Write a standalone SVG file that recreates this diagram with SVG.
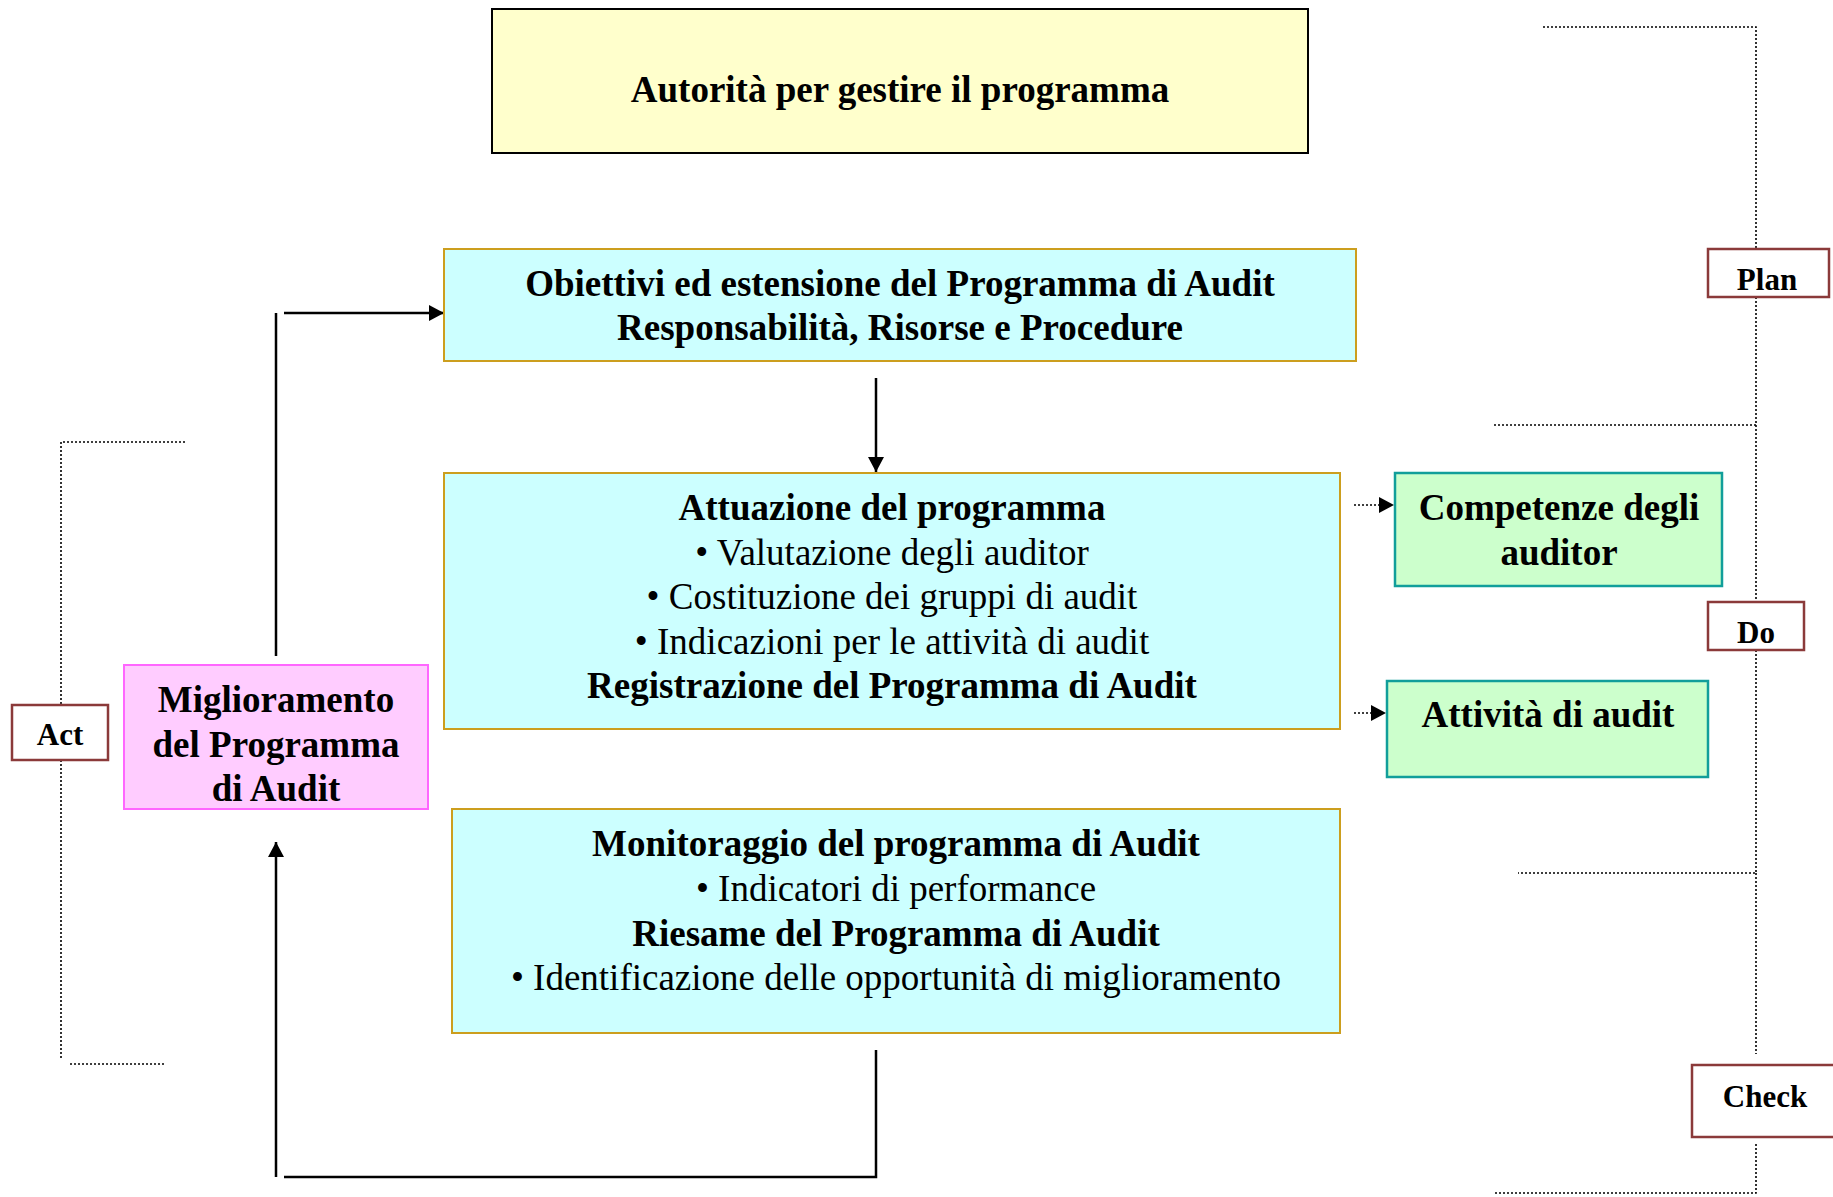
<svg xmlns="http://www.w3.org/2000/svg" width="1833" height="1197" viewBox="0 0 1833 1197">
<style>
.t{font-family:"Liberation Serif","Times New Roman",serif;font-size:37px;fill:#000;text-anchor:middle}
.b{font-weight:bold}
.p{font-family:"Liberation Serif","Times New Roman",serif;font-size:31px;font-weight:bold;fill:#000;text-anchor:middle}
.cyan{fill:#CCFFFF;stroke:#CC9E1E;stroke-width:2}
.green{fill:#CCFFCC;stroke:#119E9A;stroke-width:2.5}
.pdca{fill:#FFFFFF;stroke:#8B3A3A;stroke-width:2.5}
.dot{fill:none;stroke:#000;stroke-width:1.6;stroke-dasharray:2 2}
.line{fill:none;stroke:#000;stroke-width:2.5}
</style>
<defs>
<marker id="ah" markerUnits="userSpaceOnUse" markerWidth="16" markerHeight="16" refX="15" refY="8" orient="auto">
<path d="M0,0 L15,8 L0,16 Z" fill="#000" stroke="none"/>
</marker>
</defs>
<rect width="1833" height="1197" fill="#FFFFFF"/>

<g id="pdca-brackets">
<polyline class="dot" points="1543,27 1756,27 1756,249"/>
<polyline class="dot" points="1756,297 1756,425 1494,425"/>
<polyline class="dot" points="1756,425 1756,602"/>
<polyline class="dot" points="1756,650 1756,873 1518,873"/>
<polyline class="dot" points="1756,873 1756,1054"/>
<polyline class="dot" points="1756,1144 1756,1193 1495,1193"/>
<polyline class="dot" points="185,442 61,442 61,705"/>
<polyline class="dot" points="61,760 61,1058"/>
<line class="dot" x1="70" y1="1064" x2="165" y2="1064"/>
</g>

<g id="connectors">
<line class="line" x1="876" y1="378" x2="876" y2="472" marker-end="url(#ah)"/>
<line class="line" x1="276" y1="313" x2="276" y2="656"/>
<line class="line" x1="284" y1="313" x2="444" y2="313" marker-end="url(#ah)"/>
<polyline class="line" points="876,1050 876,1177 284,1177"/>
<line class="line" x1="276" y1="1177" x2="276" y2="842" marker-end="url(#ah)"/>
<line class="dot" x1="1354" y1="505" x2="1394" y2="505" marker-end="url(#ah)"/>
<line class="dot" x1="1354" y1="713" x2="1386" y2="713" marker-end="url(#ah)"/>
</g>

<g id="autorita">
<rect x="492" y="9" width="816" height="144" fill="#FFFFCC" stroke="#000" stroke-width="2"/>
<text class="t b" x="900" y="102">Autorità per gestire il programma</text>
</g>

<g id="obiettivi">
<rect class="cyan" x="444" y="249" width="912" height="112"/>
<text class="t b" x="900" y="296">Obiettivi ed estensione del Programma di Audit</text>
<text class="t b" x="900" y="340">Responsabilità, Risorse e Procedure</text>
</g>

<g id="attuazione">
<rect class="cyan" x="444" y="473" width="896" height="256"/>
<text class="t b" x="892" y="520">Attuazione del programma</text>
<text class="t" x="892" y="565">• Valutazione degli auditor</text>
<text class="t" x="892" y="609">• Costituzione dei gruppi di audit</text>
<text class="t" x="892" y="654">• Indicazioni per le attività di audit</text>
<text class="t b" x="892" y="698">Registrazione del Programma di Audit</text>
</g>

<g id="monitoraggio">
<rect class="cyan" x="452" y="809" width="888" height="224"/>
<text class="t b" x="896" y="856">Monitoraggio del programma di Audit</text>
<text class="t" x="896" y="901">• Indicatori di performance</text>
<text class="t b" x="896" y="946">Riesame del Programma di Audit</text>
<text class="t" x="896" y="990">• Identificazione delle opportunità di miglioramento</text>
</g>

<g id="miglioramento">
<rect x="124" y="665" width="304" height="144" fill="#FFCCFF" stroke="#FF66FF" stroke-width="2"/>
<text class="t b" x="276" y="712">Miglioramento</text>
<text class="t b" x="276" y="757">del Programma</text>
<text class="t b" x="276" y="801">di Audit</text>
</g>

<g id="competenze">
<rect class="green" x="1395" y="473" width="327" height="113"/>
<text class="t b" x="1559" y="520">Competenze degli</text>
<text class="t b" x="1559" y="565">auditor</text>
</g>

<g id="attivita">
<rect class="green" x="1387" y="681" width="321" height="96"/>
<text class="t b" x="1548" y="727">Attività di audit</text>
</g>

<g id="plan">
<rect class="pdca" x="1708" y="249" width="121" height="48"/>
<text class="p" x="1767" y="290">Plan</text>
</g>
<g id="do">
<rect class="pdca" x="1708" y="602" width="96" height="48"/>
<text class="p" x="1756" y="643">Do</text>
</g>
<g id="check">
<rect class="pdca" x="1692" y="1065" width="145" height="72"/>
<text class="p" x="1765" y="1107">Check</text>
</g>
<g id="act">
<rect class="pdca" x="12" y="705" width="96" height="55"/>
<text class="p" x="60" y="745">Act</text>
</g>
</svg>
